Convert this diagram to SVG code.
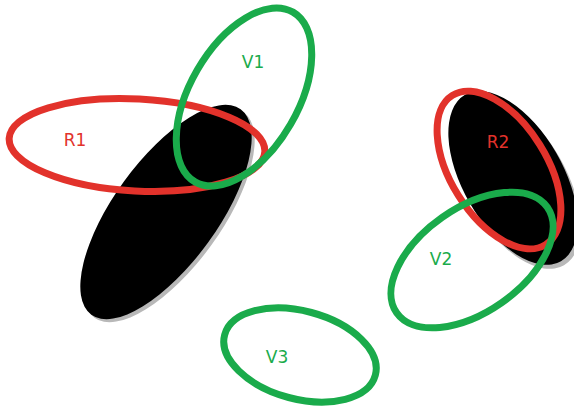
<svg xmlns="http://www.w3.org/2000/svg" width="574" height="406" viewBox="0 0 574 406">
  <style>
    .shadow { fill: #b8b8b8; }
    .blob { fill: #000; }
    .red { fill: none; stroke: #e2322b; stroke-width: 7; }
    .green { fill: none; stroke: #1aab4b; stroke-width: 7; }
    .lbl { font-family: "DejaVu Sans", "Open Sans", sans-serif; font-size: 17px; text-anchor: middle; }
    .lr { fill: #e2322b; }
    .lg { fill: #1aab4b; }
  </style>
  <rect width="574" height="406" fill="#fff"/>

  <!-- left dark region -->
  <g id="blobLeft">
    <ellipse class="shadow" cx="169" cy="215" rx="127" ry="52" transform="rotate(-54 169 215)"/>
    <ellipse class="blob" cx="166" cy="212" rx="127" ry="52" transform="rotate(-54 166 212)"/>
  </g>

  <!-- right dark region -->
  <g id="blobRight">
    <ellipse class="shadow" cx="516" cy="182" rx="96" ry="50" transform="rotate(60 516 182)"/>
    <ellipse class="blob" cx="513" cy="178" rx="96" ry="50" transform="rotate(60 513 178)"/>
  </g>

  <g id="R1">
    <ellipse class="red" cx="137" cy="145" rx="128" ry="46" transform="rotate(3 137 145)"/>
    <text class="lbl lr" x="75" y="146">R1</text>
  </g>

  <g id="V1">
    <ellipse class="green" cx="244" cy="97" rx="98" ry="54" transform="rotate(-60 244 97)"/>
    <text class="lbl lg" x="253" y="68">V1</text>
  </g>

  <g id="R2">
    <ellipse class="red" cx="499" cy="170" rx="88" ry="48" transform="rotate(58 499 170)"/>
    <text class="lbl lr" x="498" y="148">R2</text>
  </g>

  <g id="V2">
    <ellipse class="green" cx="472" cy="260" rx="92" ry="52" transform="rotate(-35 472 260)"/>
    <text class="lbl lg" x="441" y="265">V2</text>
  </g>

  <g id="V3">
    <ellipse class="green" cx="300" cy="355" rx="78" ry="44" transform="rotate(15 300 355)"/>
    <text class="lbl lg" x="277" y="363">V3</text>
  </g>

  <g id="connectors"/>
</svg>
